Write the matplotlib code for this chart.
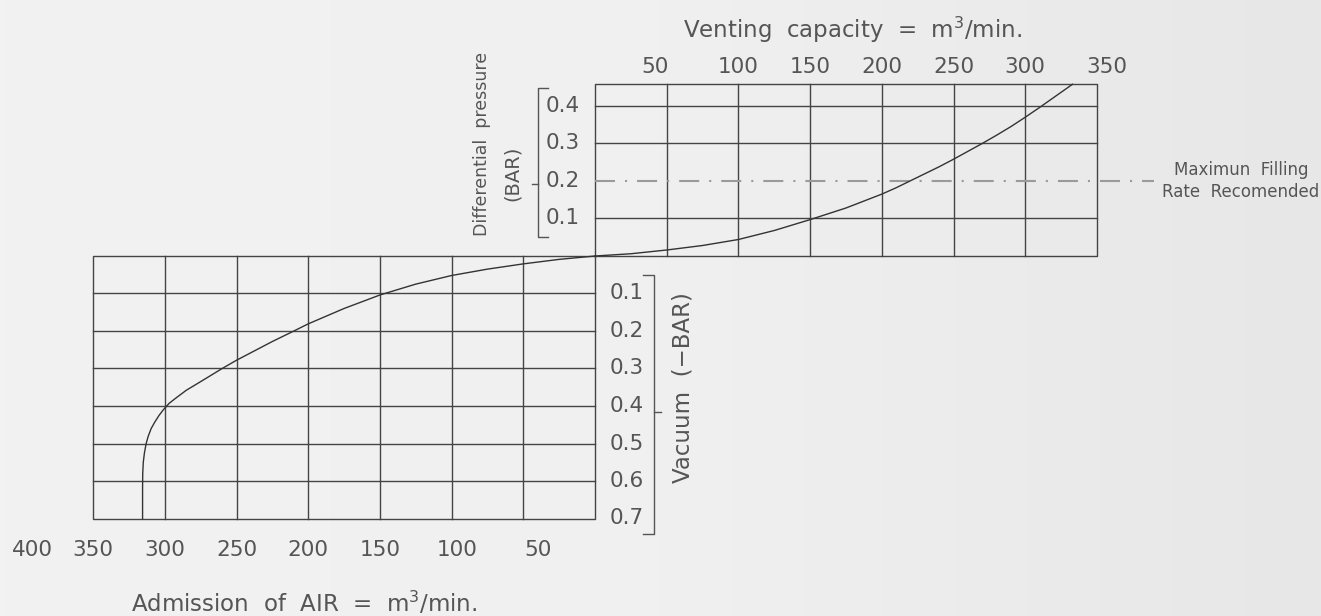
import matplotlib
matplotlib.use('Agg')
import matplotlib.pyplot as plt
import numpy as np

# venting side (upper right): capacity m3/min vs differential pressure bar
vent_x = [0, 25, 50, 75, 100, 125, 150, 175, 200, 210, 225, 240, 250, 260,
          270, 280, 290, 300, 310, 320, 333]
vent_y = [0, 0.006, 0.016, 0.028, 0.044, 0.068, 0.097, 0.128, 0.165, 0.182,
          0.21, 0.238, 0.258, 0.279, 0.3, 0.322, 0.345, 0.37, 0.396, 0.423,
          0.458]

# admission side (lower left): air m3/min vs vacuum (-bar)
adm_x = [0, 25, 50, 75, 100, 125, 150, 175, 200, 210, 225, 250, 260, 275,
         285, 292, 297, 301, 304, 307, 309.5, 311.5, 313, 314.2, 315, 315.4,
         315.5, 315.5]
adm_y = [0, 0.009, 0.021, 0.035, 0.052, 0.075, 0.104, 0.14, 0.181, 0.2,
         0.228, 0.278, 0.3, 0.335, 0.358, 0.378, 0.393, 0.41, 0.425, 0.443,
         0.46, 0.48, 0.5, 0.525, 0.55, 0.58, 0.62, 0.7]

vent_ticks = [50, 100, 150, 200, 250, 300, 350]
adm_ticks = [400, 350, 300, 250, 200, 150, 100, 50]
press_ticks = [0.1, 0.2, 0.3, 0.4]
vac_ticks = [0.1, 0.2, 0.3, 0.4, 0.5, 0.6, 0.7]
max_fill = 0.2

W, H = 1321, 616
X0, Y0 = 595, 256          # origin in pixels
SX, SY = 1.434, 375.0      # pixels per unit


def px(x):
    return (x - X0) / SX


def py(y):
    return (Y0 - y) / SY


fig = plt.figure(figsize=(W / 100, H / 100), dpi=100)
ax = fig.add_axes([0, 0, 1, 1])
ax.set_xlim(px(0), px(W))
ax.set_ylim(py(H), py(0))
ax.axis('off')

# background gradient
grad = np.linspace(0, 1, 256).reshape(1, -1)
ax.imshow(grad, extent=[px(0), px(W), py(H), py(0)], aspect='auto',
          cmap=matplotlib.colors.LinearSegmentedColormap.from_list('bg', ['#f2f2f2', '#f0f0f0', '#e7e7e7']),
          zorder=0)

gc = '#444444'
lw = 1.0
tc = '#555555'
fs = 15.5

# upper grid
top = 0.458
xr = 350
ax.plot([0, xr, xr, 0, 0], [0, 0, top, top, 0], color=gc, lw=lw)
for v in vent_ticks[:-1]:
    ax.plot([v, v], [0, top], color=gc, lw=lw)
for p in press_ticks:
    if p != max_fill:
        ax.plot([0, xr], [p, p], color=gc, lw=lw)
ax.plot([0, 390], [max_fill, max_fill], color='#9a9a9a', lw=1.5,
        ls=(0, (9.6, 4.8, 1, 4.8)))

# lower grid
ax.plot([0, -xr, -xr, 0, 0], [0, 0, -0.7, -0.7, 0], color=gc, lw=lw)
for v in adm_ticks[2:]:
    ax.plot([-v, -v], [0, -0.7], color=gc, lw=lw)
for p in vac_ticks[:-1]:
    ax.plot([-xr, 0], [-p, -p], color=gc, lw=lw)

# curves
ax.plot(vent_x, vent_y, color='#333333', lw=1.0)
ax.plot([-v for v in adm_x], [-v for v in adm_y], color='#333333', lw=1.0)

# tick labels
top_nudge = {50: -8, 350: 7}
bot_nudge = {50: 10, 100: 4, 400: 8}
for v in vent_ticks:
    ax.text(v + top_nudge.get(v, 0), py(67), str(v), ha='center', va='center',
            fontsize=fs, color=tc)
for v in adm_ticks:
    ax.text(-v + bot_nudge.get(v, 0), py(550), str(v), ha='center', va='center',
            fontsize=fs, color=tc)
for p in press_ticks:
    ax.text(px(546), p, f'{p:.1f}', ha='left', va='center', fontsize=fs, color=tc)
for p in vac_ticks:
    ax.text(px(610), -p, f'{p:.1f}', ha='left', va='center', fontsize=fs, color=tc)

# brackets
bc = '#555555'
ax.plot([px(548), px(538), px(538), px(548)], [py(88), py(88), py(237), py(237)],
        color=bc, lw=1.0)
ax.plot([px(532), px(538)], [py(184), py(184)], color=bc, lw=1.0)
ax.plot([px(643), px(654), px(654), px(643)], [py(275), py(275), py(534), py(534)],
        color=bc, lw=1.0)
ax.plot([px(654), px(661)], [py(412), py(412)], color=bc, lw=1.0)

# axis titles
ax.text(px(852), py(30), 'Venting  capacity  =  m$^3$/min.', ha='center',
        va='center', fontsize=16.5, color=tc)
ax.text(px(304), py(603), 'Admission  of  AIR  =  m$^3$/min.', ha='center',
        va='center', fontsize=16.5, color=tc)
ax.text(px(482), py(144), 'Differential  pressure', rotation=90, ha='center',
        va='center', fontsize=12.5, color=tc)
ax.text(px(512), py(173), '(BAR)', rotation=90, ha='center', va='center',
        fontsize=14, color=tc)
ax.text(px(683), py(388), 'Vacuum  (\u2212BAR)', rotation=90, ha='center',
        va='center', fontsize=16.5, color=tc)
ax.text(px(1241), py(181), 'Maximun  Filling\nRate  Recomended', ha='center',
        va='center', fontsize=12, color=tc, linespacing=1.35)

fig.savefig('out.png', dpi=100)
